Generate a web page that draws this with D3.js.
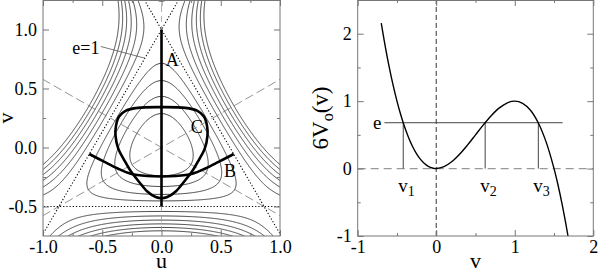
<!DOCTYPE html>
<html>
<head>
<meta charset="utf-8">
<script src="https://cdn.jsdelivr.net/npm/d3@7"></script>
<style>
  body { margin: 0; background: #fff; }
  svg { display: block; }
  svg text { font-family: "Liberation Serif", "Times New Roman", serif; }
</style>
</head>
<body>
<svg id="chart" width="598" height="272"></svg>
<script>
// ---- left panel: contours of 6V(u,v) ----
const innerLevels = [0.2, 0.4, 0.6, 0.8];
const outerLevels = [1.2, 1.4, 1.6, 1.8, 2.0, 2.2];

// e=1 separatrix triangle (dotted) and symmetry axes (dashed), as [u,v] segments
const separatrix = [
  [[-1.1, -0.5], [1.1, -0.5]],
  [[-0.2, 1.346], [1.05, -0.819]],
  [[0.2, 1.346], [-1.05, -0.819]]
];
const symmetryAxes = [
  [[-1.1, 0.635], [1.1, -0.635]],
  [[-1.1, -0.635], [1.1, 0.635]]
];
const centerAxis = [[0, -0.8], [0, 1.3]];

// periodic orbits
const orbitA = [[0, -0.5], [0, 1.0]];
const orbitB = [
  [-0.61, -0.055], [-0.485, -0.12], [-0.37, -0.178], [-0.26, -0.222], [-0.12, -0.242], [0, -0.246],
  [0.12, -0.242], [0.26, -0.222], [0.37, -0.178], [0.485, -0.12], [0.61, -0.055]
];
const orbitC = [
  [0, 0.342], [0.2, 0.336], [0.3, 0.312], [0.358, 0.262], [0.384, 0.185], [0.388, 0.1], [0.365, -0.01],
  [0.316, -0.104], [0.26, -0.2], [0.19, -0.29], [0.12, -0.373], [0.049, -0.42], [0, -0.43],
  [-0.049, -0.42], [-0.12, -0.373], [-0.19, -0.29], [-0.26, -0.2], [-0.316, -0.104], [-0.365, -0.01],
  [-0.388, 0.1], [-0.384, 0.185], [-0.358, 0.262], [-0.3, 0.312], [-0.2, 0.336]
];
const orbitLabels = [
  { text: "A", u: 0.035, v: 0.69 },
  { text: "C", u: 0.246, v: 0.125 },
  { text: "B", u: 0.527, v: -0.248 }
];
const eLabel = { text: "e=1", u: -0.753, v: 0.794, to: [[-0.513, 0.856], [-0.14, 0.757]] };

const leftXMajor = [-1, -0.5, 0, 0.5, 1];
const leftXMinor = [-0.75, -0.25, 0.25, 0.75];
const leftYMajor = [-0.5, 0, 0.5, 1];
const leftYMinor = [-0.25, 0.25, 0.75];

// ---- right panel: 6V0(v) ----
const curveV =  [-0.7, -0.65, -0.6, -0.55, -0.5, -0.45, -0.4, -0.35, -0.3, -0.25, -0.2, -0.15, -0.1, -0.05, 0,
                 0.1, 0.2, 0.3, 0.4, 0.5, 0.6, 0.7, 0.8, 0.9, 1.0, 1.1, 1.2, 1.3, 1.4, 1.5, 1.55, 1.6, 1.65, 1.68];
const curve6V = [2.156, 1.817, 1.512, 1.240, 1.0, 0.790, 0.608, 0.453, 0.324, 0.219, 0.136, 0.074, 0.032, 0.008, 0,
                 0.028, 0.104, 0.216, 0.352, 0.5, 0.648, 0.784, 0.896, 0.972, 1.0, 0.968, 0.864, 0.676, 0.392, 0, -0.240, -0.512, -0.817, -1.016];
const energy = 0.68;
const energyRange = [-0.66, 1.61];
const turningPoints = [-0.42, 0.623, 1.30];
const turningNames = ["1", "2", "3"];

const rightXMajor = [-1, 0, 1, 2];
const rightXMinor = [-0.5, 0.5, 1.5];
const rightYMajor = [-1, 0, 1, 2];
const rightYMinor = [-0.5, 0.5, 1.5];

const pot6 = (u, v) => 3 * (u * u + v * v) + 6 * u * u * v - 2 * v * v * v;

const svg = d3.select("#chart");
const serif = '"Liberation Serif", "Times New Roman", serif';
const frameColor = "#777";

function frameAxes(g, x, y, xMajor, xMinor, yMajor, yMinor, fmt) {
  const [x0, x1] = x.range();
  const [y1, y0] = y.range();
  const ax = (gen, tr) => g.append("g").attr("transform", tr).call(gen)
    .attr("font-family", serif).attr("font-size", 18)
    .call(s => s.select(".domain").remove())
    .call(s => s.selectAll("line").attr("stroke", frameColor))
    .call(s => s.selectAll("text").attr("fill", "#000").style("font-family", serif).style("font-size", "18px"));
  ax(d3.axisBottom(x).tickValues(xMajor).tickSize(-6).tickPadding(4).tickFormat(fmt), `translate(0,${y1})`);
  ax(d3.axisBottom(x).tickValues(xMinor).tickSize(-3).tickFormat(""), `translate(0,${y1})`);
  ax(d3.axisTop(x).tickValues(xMajor).tickSize(-6).tickFormat(""), `translate(0,${y0})`);
  ax(d3.axisTop(x).tickValues(xMinor).tickSize(-3).tickFormat(""), `translate(0,${y0})`);
  ax(d3.axisLeft(y).tickValues(yMajor).tickSize(-6).tickPadding(6).tickFormat(fmt), `translate(${x0},0)`);
  ax(d3.axisLeft(y).tickValues(yMinor).tickSize(-3).tickFormat(""), `translate(${x0},0)`);
  ax(d3.axisRight(y).tickValues(yMajor).tickSize(-6).tickFormat(""), `translate(${x1},0)`);
  ax(d3.axisRight(y).tickValues(yMinor).tickSize(-3).tickFormat(""), `translate(${x1},0)`);
  g.append("rect")
    .attr("x", x0).attr("y", y0 + 0.5)
    .attr("width", x1 - x0).attr("height", y1 - y0 - 0.5)
    .attr("fill", "none").attr("stroke", frameColor).attr("stroke-width", 1);
}

// ================= left panel =================
const xL = d3.scaleLinear().domain([-1, 1]).range([43, 280]);
const yL = d3.scaleLinear().domain([-0.75, 1.25]).range([236, 0]);

svg.append("clipPath").attr("id", "clipL").append("rect")
  .attr("x", 43).attr("y", 0).attr("width", 237).attr("height", 236);

const left = svg.append("g");
const plotL = left.append("g").attr("clip-path", "url(#clipL)");
const lineL = d3.line().x(d => xL(d[0])).y(d => yL(d[1]));

// grid for contouring, a bit larger than the frame
const nx = 260, ny = 260;
const uMin = -1.1, uMax = 1.1, vMin = -0.85, vMax = 1.35;
const du = (uMax - uMin) / (nx - 1), dv = (vMax - vMin) / (ny - 1);
const grid = new Array(nx * ny);
for (let j = 0; j < ny; j++) {
  for (let i = 0; i < nx; i++) {
    grid[i + j * nx] = pot6(uMin + i * du, vMin + j * dv);
  }
}
const proj = d3.geoTransform({
  point(px, py) {
    this.stream.point(xL(uMin + (px - 0.5) * du), yL(vMin + (py - 0.5) * dv));
  }
});
const contours = d3.contours().size([nx, ny]).thresholds(innerLevels.concat(outerLevels))(grid);
plotL.append("g").selectAll("path")
  .data(contours)
  .join("path")
  .attr("d", d3.geoPath(proj))
  .attr("fill", "none")
  .attr("stroke", "#333")
  .attr("stroke-width", 0.9);

// symmetry lines
plotL.append("path").attr("d", lineL(centerAxis))
  .attr("fill", "none").attr("stroke", "#999").attr("stroke-width", 0.8).attr("stroke-dasharray", "6,4");
plotL.selectAll(".sym").data(symmetryAxes).join("path").attr("class", "sym")
  .attr("d", lineL).attr("fill", "none").attr("stroke", "#666").attr("stroke-width", 0.7)
  .attr("stroke-dasharray", "9,4");

// e=1 triangle
plotL.selectAll(".sep").data(separatrix).join("path").attr("class", "sep")
  .attr("d", lineL).attr("fill", "none").attr("stroke", "#000").attr("stroke-width", 1.1)
  .attr("stroke-dasharray", "1.2,2");

// orbits
plotL.append("path").attr("d", lineL(orbitA))
  .attr("fill", "none").attr("stroke", "#000").attr("stroke-width", 2.6);
plotL.append("path").attr("d", lineL.curve(d3.curveCatmullRom)(orbitB))
  .attr("fill", "none").attr("stroke", "#000").attr("stroke-width", 2.6);
plotL.append("path").attr("d", lineL.curve(d3.curveCatmullRomClosed)(orbitC))
  .attr("fill", "none").attr("stroke", "#000").attr("stroke-width", 2.6);
lineL.curve(d3.curveLinear);

left.selectAll(".olab").data(orbitLabels).join("text").attr("class", "olab")
  .attr("x", d => xL(d.u)).attr("y", d => yL(d.v))
  .style("font-size", "18px").text(d => d.text);

left.append("path").attr("d", lineL(eLabel.to))
  .attr("fill", "none").attr("stroke", "#555").attr("stroke-width", 0.8);
left.append("text").attr("x", xL(eLabel.u)).attr("y", yL(eLabel.v))
  .style("font-size", "18px").text(eLabel.text);

frameAxes(left, xL, yL, leftXMajor, leftXMinor, leftYMajor, leftYMinor, d => d.toFixed(1));

left.append("text").attr("x", 161.5).attr("y", 268).attr("text-anchor", "middle")
  .style("font-size", "22px").text("u");
left.append("text").attr("transform", "translate(13,118) rotate(-90)").attr("text-anchor", "middle")
  .style("font-size", "22px").text("v");

// ================= right panel =================
const xR = d3.scaleLinear().domain([-1, 2]).range([357.7, 593.3]);
const yR = d3.scaleLinear().domain([-1, 2.5]).range([236, 0]);

svg.append("clipPath").attr("id", "clipR").append("rect")
  .attr("x", 357.7).attr("y", 0).attr("width", 235.6).attr("height", 236);

const right = svg.append("g");
const plotR = right.append("g").attr("clip-path", "url(#clipR)");

plotR.append("line")
  .attr("x1", xR(-1)).attr("x2", xR(2)).attr("y1", yR(0)).attr("y2", yR(0))
  .attr("stroke", "#999").attr("stroke-width", 1.2).attr("stroke-dasharray", "8,5");
plotR.append("line")
  .attr("x1", xR(0)).attr("x2", xR(0)).attr("y1", yR(-1)).attr("y2", yR(2.5))
  .attr("stroke", "#000").attr("stroke-width", 0.8).attr("stroke-dasharray", "5,3");

plotR.append("line")
  .attr("x1", xR(energyRange[0])).attr("x2", xR(energyRange[1]))
  .attr("y1", yR(energy)).attr("y2", yR(energy))
  .attr("stroke", "#444").attr("stroke-width", 1);
plotR.selectAll(".drop").data(turningPoints).join("line").attr("class", "drop")
  .attr("x1", d => xR(d)).attr("x2", d => xR(d))
  .attr("y1", yR(energy)).attr("y2", yR(0))
  .attr("stroke", "#444").attr("stroke-width", 1);

plotR.append("path")
  .datum(curveV.map((v, i) => [v, curve6V[i]]))
  .attr("d", d3.line().x(d => xR(d[0])).y(d => yR(d[1])).curve(d3.curveCatmullRom))
  .attr("fill", "none").attr("stroke", "#000").attr("stroke-width", 1.4);

right.append("text").attr("x", xR(energyRange[0]) - 3).attr("y", yR(energy)).attr("dy", "0.32em")
  .attr("text-anchor", "end").style("font-size", "19px").text("e");

const tl = right.selectAll(".tp").data(turningPoints).join("text").attr("class", "tp")
  .attr("x", d => xR(d) - 5).attr("y", yR(-0.35))
  .style("font-size", "19px");
tl.append("tspan").text("v");
tl.append("tspan").attr("dy", 4).style("font-size", "14px").text((d, i) => turningNames[i]);

frameAxes(right, xR, yR, rightXMajor, rightXMinor, rightYMajor, rightYMinor, d => String(d));

right.append("text").attr("x", 475.5).attr("y", 268).attr("text-anchor", "middle")
  .style("font-size", "22px").text("v");
const yl = right.append("text").attr("transform", "translate(328,118) rotate(-90)").attr("text-anchor", "middle")
  .style("font-size", "23px");
yl.append("tspan").text("6V");
yl.append("tspan").attr("dy", 5).style("font-size", "16px").text("o");
yl.append("tspan").attr("dy", -5).text("(v)");
</script>
</body>
</html>
